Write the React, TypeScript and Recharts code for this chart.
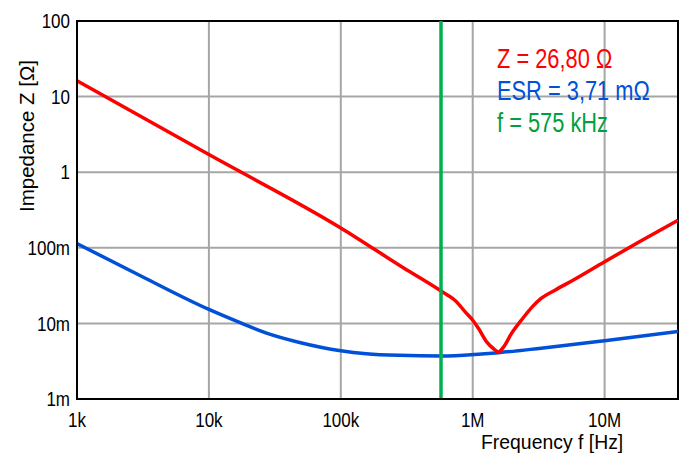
import React from "react";
import {
  LineChart,
  Line,
  XAxis,
  YAxis,
  CartesianGrid,
  ReferenceLine,
  ReferenceArea,
} from "recharts";

// Impedance |Z| (Ohm) vs frequency (Hz)
const zFreq = [1e3, 1e4, 1e5, 3e5, 5.75e5, 7.5e5, 8.8e5, 1e6, 1.11e6, 1.28e6, 1.44e6, 1.57e6, 1.71e6, 1.97e6, 2.4e6, 2.85e6, 3.3e6, 4.2e6, 5.84e6, 1e7, 1.85e7, 3.6e7];
const zValue = [16.2, 1.71, 0.183, 0.054, 0.0268, 0.0195, 0.0141, 0.011, 0.0085, 0.00565, 0.00462, 0.0042, 0.00485, 0.00738, 0.0117, 0.0168, 0.0214, 0.0275, 0.0378, 0.0655, 0.121, 0.231];

// ESR (Ohm) vs frequency (Hz)
const esrFreq = [1e3, 3e3, 1e4, 1.78e4, 2.7e4, 4.87e4, 1e5, 1.56e5, 2.78e5, 5.75e5, 1.17e6, 1.57e6, 3.3e6, 1e7, 3.6e7];
const esrValue = [0.1137, 0.043, 0.0153, 0.01, 0.0075, 0.0056, 0.00435, 0.00397, 0.00378, 0.00371, 0.00395, 0.0041, 0.0047, 0.0059, 0.0078];

const markerFreq = 575000;

const xTicks = [1e3, 1e4, 1e5, 1e6, 1e7];
const xTickLabels = ["1k", "10k", "100k", "1M", "10M"];
const yTicks = [0.001, 0.01, 0.1, 1, 10, 100];
const yTickLabels = ["1m", "10m", "100m", "1", "10", "100"];

const legendLines = [
  { text: "Z = 26,80 \u03A9", color: "#ff0000" },
  { text: "ESR = 3,71 m\u03A9", color: "#0050d8" },
  { text: "f = 575 kHz", color: "#00a040" },
];

const zData = zFreq.map((f, i) => ({ f, v: zValue[i] }));
const esrData = esrFreq.map((f, i) => ({ f, v: esrValue[i] }));

const FONT = "'Liberation Sans', Arial, sans-serif";

const fmtX = (v: number) => {
  const i = xTicks.findIndex((t) => Math.abs(t - v) / t < 1e-6);
  return i >= 0 ? xTickLabels[i] : "";
};
const fmtY = (v: number) => {
  const i = yTicks.findIndex((t) => Math.abs(t - v) / t < 1e-6);
  return i >= 0 ? yTickLabels[i] : "";
};

const XTick = (props: any) => {
  const { x, y, payload } = props;
  return (
    <g transform={`translate(${x},${y})`}>
      <text
        transform="scale(0.85,1)"
        textAnchor="middle"
        dy="0.71em"
        fontSize={20}
        fontFamily={FONT}
        fill="#000"
      >
        {fmtX(payload.value)}
      </text>
    </g>
  );
};

const YTick = (props: any) => {
  const { x, y, payload } = props;
  return (
    <g transform={`translate(${x},${y})`}>
      <text
        transform="scale(0.85,1)"
        textAnchor="end"
        dy="0.355em"
        fontSize={20}
        fontFamily={FONT}
        fill="#000"
      >
        {fmtY(payload.value)}
      </text>
    </g>
  );
};

export default function App() {
  return (
    <div style={{ position: "absolute", left: 0, top: 0, width: 685, height: 457, background: "#fff" }}>
      <LineChart
        width={685}
        height={457}
        margin={{ top: 21, right: 7, bottom: 0, left: 0 }}
      >
        <CartesianGrid stroke="#a6a6a6" strokeWidth={2} />
        <XAxis
          dataKey="f"
          type="number"
          scale="log"
          domain={[1e3, 3.6e7]}
          ticks={xTicks}
          allowDataOverflow
          height={58}
          tickLine={false}
          tickSize={12}
          tickMargin={2}
          axisLine={{ stroke: "#000", strokeWidth: 2 }}
          tick={<XTick />}
          interval={0}
        />
        <YAxis
          dataKey="v"
          type="number"
          scale="log"
          domain={[0.001, 100]}
          ticks={yTicks}
          allowDataOverflow
          width={77}
          tickLine={false}
          tickSize={5}
          tickMargin={2}
          axisLine={{ stroke: "#000", strokeWidth: 2 }}
          tick={<YTick />}
          interval={0}
        />
        <ReferenceArea
          x1={1e3}
          x2={3.6e7}
          y1={0.001}
          y2={100}
          fill="none"
          fillOpacity={0}
          stroke="#000"
          strokeWidth={2}
          ifOverflow="visible"
        />
        <Line
          data={esrData}
          dataKey="v"
          type="monotone"
          stroke="#0050d8"
          strokeWidth={3.5}
          dot={false}
          isAnimationActive={false}
        />
        <Line
          data={zData}
          dataKey="v"
          type="monotone"
          stroke="#ff0000"
          strokeWidth={3.5}
          dot={false}
          isAnimationActive={false}
        />
        <ReferenceLine x={markerFreq} stroke="#00b050" strokeWidth={3.5} ifOverflow="visible" />
      </LineChart>
      <svg
        width={685}
        height={457}
        style={{ position: "absolute", left: 0, top: 0, pointerEvents: "none" }}
      >
        <text
          x={34}
          y={136}
          transform="rotate(-90, 34, 136)"
          textAnchor="middle"
          fontSize={20.5}
          fontFamily={FONT}
          fill="#000"
        >
          Impedance Z [Ω]
        </text>
        <g transform="translate(481,449)">
          <text transform="scale(0.97,1)" fontSize={20} fontFamily={FONT} fill="#000">
            Frequency f [Hz]
          </text>
        </g>
        {legendLines.map((l, i) => (
          <g key={i} transform={`translate(497,${68 + i * 31.8})`}>
            <text transform="scale(0.78,1)" fontSize={28} fontFamily={FONT} fill={l.color}>
              {l.text}
            </text>
          </g>
        ))}
      </svg>
    </div>
  );
}
